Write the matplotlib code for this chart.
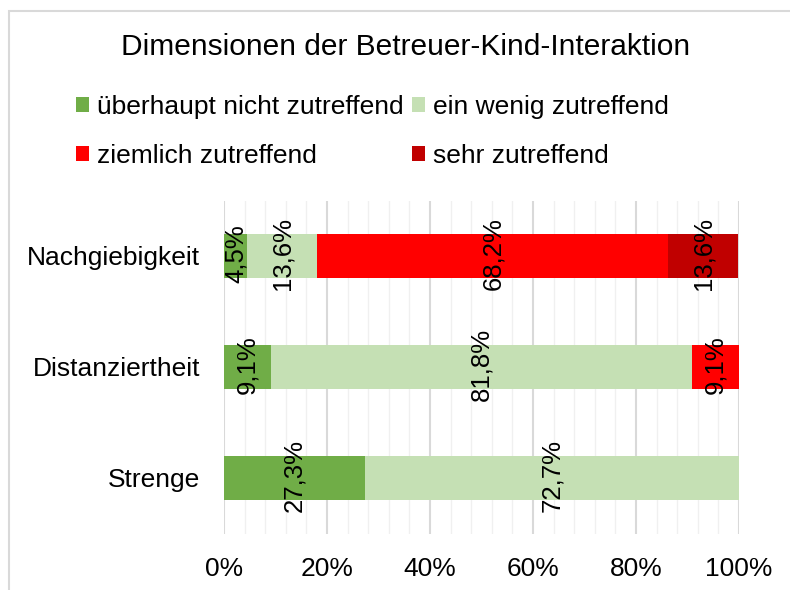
import numpy as np
import matplotlib
matplotlib.use('Agg')
import matplotlib.pyplot as plt
from matplotlib.patches import Rectangle
from matplotlib.ticker import MultipleLocator, FuncFormatter

plt.rcParams['font.family'] = ['Liberation Sans', 'DejaVu Sans']

# data (percent), categories listed top to bottom
categories = ['Nachgiebigkeit', 'Distanziertheit', 'Strenge']
series_names = ['überhaupt nicht zutreffend', 'ein wenig zutreffend',
                'ziemlich zutreffend', 'sehr zutreffend']
ueberhaupt_nicht = [4.5, 9.1, 27.3]
ein_wenig = [13.6, 81.8, 72.7]
ziemlich = [68.2, 9.1, 0.0]
sehr = [13.6, 0.0, 0.0]
colors = ['#70AD47', '#C5E0B4', '#FF0000', '#C00000']

fig = plt.figure(figsize=(7.9, 5.9), dpi=100)
ax = fig.add_axes([224 / 790, 1 - 533.5 / 590, 515 / 790, 333 / 590])

# outer chart border (cut off at right/bottom like the screenshot)
fig.patches.append(Rectangle((9 / 790, -0.2), 1.2, 1.2 - 11 / 590,
                             transform=fig.transFigure, fill=False,
                             edgecolor='#D9D9D9', linewidth=1.5))

y = np.arange(len(categories))[::-1]
left = np.zeros(len(categories))
handles = []
for name, vals, col in zip(series_names, [ueberhaupt_nicht, ein_wenig, ziemlich, sehr], colors):
    vals = np.array(vals)
    b = ax.barh(y, vals, left=left, height=0.4, color=col, label=name, zorder=3)
    handles.append(b)
    for yi, v, l in zip(y, vals, left):
        if v > 0:
            ax.text(l + v / 2, yi + 0.02, f'{v:.1f}%'.replace('.', ','), rotation=90,
                    ha='center', va='center', fontsize=18.5, zorder=4)
    left += vals

ax.set_xlim(0, 100)
ax.set_ylim(-0.5, 2.5)
ax.set_yticks(y)
ax.set_yticklabels(categories, fontsize=19)
ax.xaxis.set_major_locator(MultipleLocator(20))
ax.xaxis.set_minor_locator(MultipleLocator(4))
ax.xaxis.set_major_formatter(FuncFormatter(lambda v, p: f'{v:.0f}%'))
ax.tick_params(axis='x', labelsize=19, length=0, pad=17, which='both')
ax.tick_params(axis='y', length=0, pad=17)
ax.grid(axis='x', which='major', color='#D9D9D9', linewidth=1.5, zorder=1)
ax.grid(axis='x', which='minor', color='#F0F0F0', linewidth=1.0, zorder=0)
for s in ax.spines.values():
    s.set_visible(False)

fig.text(406 / 790, 1 - 47 / 590, 'Dimensionen der Betreuer-Kind-Interaktion',
         ha='center', va='center', fontsize=21.5)

order = [0, 2, 1, 3]
fig.legend([handles[i] for i in order], [series_names[i] for i in order],
           ncol=2, loc='upper left', bbox_to_anchor=(63 / 790, 1 - 82 / 590),
           frameon=False, fontsize=19, handlelength=0.5, handleheight=0.5,
           handletextpad=0.3, columnspacing=0.3, labelspacing=0.95,
           borderpad=0)

fig.savefig('out.png', dpi=100)
